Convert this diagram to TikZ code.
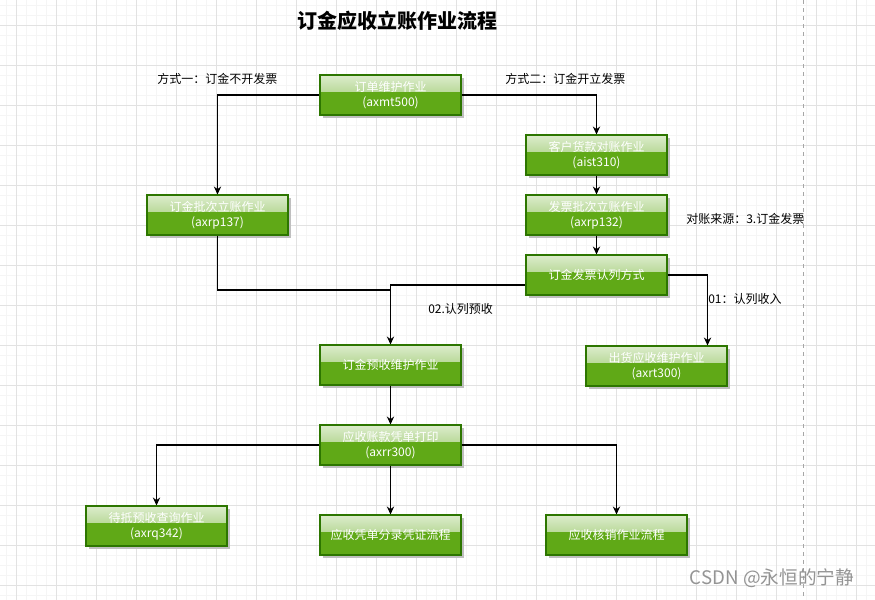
\documentclass[tikz,border=0pt]{standalone}
\usepackage{fontspec}
\setmainfont{Noto Sans CJK SC}
\usepackage{tikz}
\usetikzlibrary{arrows.meta,shadows}

\definecolor{boxgreen}{HTML}{60A917}
\definecolor{boxline}{HTML}{2D7600}
\definecolor{gridmajor}{HTML}{E2E2E2}
\definecolor{gridminor}{HTML}{F5F5F5}

\tikzset{
  procbox/.style={draw=boxline, line width=0.8pt, fill=boxgreen, text=white,
    minimum width=105.75pt, minimum height=30pt, align=center, inner sep=1pt,
    font=\fontsize{9}{11.5}\selectfont,
    path picture={\shade[top color=white!78!boxgreen, bottom color=white!28!boxgreen]
      (path picture bounding box.north west) rectangle ([yshift=-12.5pt]path picture bounding box.north east);},
    drop shadow={shadow xshift=2.2pt, shadow yshift=-2.2pt, fill=black!25, opacity=1}},
  flow/.style={draw=black, line width=0.9pt, -{Stealth[length=6pt,width=5.5pt]}},
  note/.style={font=\fontsize{9}{11}\selectfont, anchor=west, inner sep=0pt}
}

\begin{document}
\begin{tikzpicture}[x=0.75pt, y=-0.75pt]
    % Background grid
    \useasboundingbox (0,0) rectangle (875,600);
    \fill[white] (0,0) rectangle (875,600);
    \foreach \gx in {6,16,...,875} \draw[gridminor, line width=0.4pt] (\gx,0) -- (\gx,600);
    \foreach \gy in {5,15,...,600} \draw[gridminor, line width=0.4pt] (0,\gy) -- (875,\gy);
    \foreach \gx in {16,56,...,875} \draw[gridmajor, line width=0.6pt] (\gx,0) -- (\gx,600);
    \foreach \gy in {25,65,...,600} \draw[gridmajor, line width=0.6pt] (0,\gy) -- (875,\gy);
    \draw[black!35, dashed, line width=0.6pt] (803,0) -- (803,600);

    % Title
    \node[font=\fontsize{15}{18}\selectfont\bfseries] (title) at (397,21) {订金应收立账作业流程};

    % Process boxes
    \node[procbox] (order) at (390.5,95) {订单维护作业\\(axmt500)};
    \node[procbox] (recon) at (596.5,155) {客户货款对账作业\\(aist310)};
    \node[procbox] (invbatch) at (596.5,215) {发票批次立账作业\\(axrp132)};
    \node[procbox] (depbatch) at (217.5,215) {订金批次立账作业\\(axrp137)};
    \node[procbox] (method) at (596.5,275) {订金发票认列方式};
    \node[procbox] (shipar) at (656.5,366) {出货应收维护作业\\(axrt300)};
    \node[procbox] (deppre) at (390.5,365) {订金预收维护作业};
    \node[procbox] (print) at (390.5,445) {应收账款凭单打印\\(axrr300)};
    \node[procbox] (offset) at (156.5,526) {待抵预收查询作业\\(axrq342)};
    \node[procbox] (voucher) at (390.5,535) {应收凭单分录凭证流程};
    \node[procbox] (writeoff) at (616.5,535) {应收核销作业流程};

    % Labels
    \node[note] (way1) at (157,79) {方式一：订金不开发票};
    \node[note] (way2) at (505,79) {方式二：订金开立发票};
    \node[note] (src) at (686,219) {对账来源：3.订金发票};
    \node[note] (lbl01) at (708,299) {01：认列收入};
    \node[note] (lbl02) at (428,309) {02.认列预收};

    % Connectors
    \coordinate (join) at (390.5,290);
    \draw[flow] (order.west) -| (depbatch.north);
    \draw[flow] (order.east) -| (recon.north);
    \draw[flow] (recon) -- (invbatch);
    \draw[flow] (invbatch) -- (method);
    \draw[line width=0.9pt] (depbatch.south) |- (join);
    \draw[flow] ([yshift=-7.5pt]method.west) -| (deppre.north);
    \draw[flow] (method.east) -| ([xshift=-15pt]shipar.north east);
    \draw[flow] (deppre) -- (print);
    \draw[flow] (print.west) -| (offset.north);
    \draw[flow] (print) -- (voucher);
    \draw[flow] (print.east) -| (writeoff.north);

    % Watermark
    \node[font=\fontsize{14}{16}\selectfont, text=black!42] (mark) at (772,578) {CSDN @永恒的宁静};
\end{tikzpicture}
\end{document}
